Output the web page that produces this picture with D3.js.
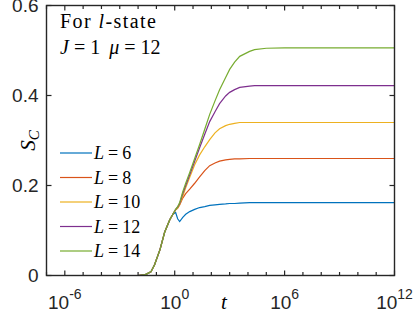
<!DOCTYPE html>
<html>
<head>
<meta charset="utf-8">
<script src="https://cdn.jsdelivr.net/npm/d3@7"></script>
<style>
  body { margin: 0; background: #fff; }
  .tick-label { font-family: "Liberation Sans", Arial, sans-serif; font-size: 19px; fill: #262626; }
  .serif { font-family: "Liberation Serif", "DejaVu Serif", "Times New Roman", serif; fill: #000; }
</style>
</head>
<body>
<div id="chart"></div>
<script>
// data: log10(t) grid and S_C for each L
var logT = [-2, -1.6, -1.3, -1.1, -0.8, -0.55, -0.27, -0.1, 0.05, 0.16, 0.27, 0.44, 0.6, 0.82,
    1.09, 1.36, 1.64, 1.91, 2.2, 2.45, 2.78, 3, 3.27, 3.55, 4.09, 4.36, 5, 6, 8, 10, 12];

var rise = [0, 0.002, 0.008, 0.024, 0.058, 0.096, 0.124, 0.136];

var sL6 = rise.concat([0.14, 0.126, 0.12, 0.129, 0.136, 0.142, 0.147, 0.151, 0.153, 0.156, 0.157,
    0.158, 0.159, 0.16, 0.16, 0.161, 0.162, 0.162, 0.162, 0.162, 0.162, 0.162, 0.162]);
var sL8 = rise.concat([0.146, 0.15, 0.157, 0.172, 0.182, 0.192, 0.205, 0.219, 0.233, 0.244, 0.25,
    0.254, 0.257, 0.258, 0.259, 0.259, 0.26, 0.26, 0.26, 0.26, 0.26, 0.26, 0.26]);
var sL10 = rise.concat([0.146, 0.15, 0.158, 0.176, 0.195, 0.218, 0.246, 0.268, 0.286, 0.302, 0.317,
    0.326, 0.333, 0.336, 0.338, 0.34, 0.34, 0.34, 0.34, 0.34, 0.34, 0.34, 0.34]);
var sL12 = rise.concat([0.147, 0.152, 0.16, 0.182, 0.2, 0.224, 0.254, 0.284, 0.314, 0.342, 0.364,
    0.382, 0.399, 0.407, 0.413, 0.418, 0.421, 0.422, 0.422, 0.422, 0.422, 0.422, 0.422]);
var sL14 = rise.concat([0.147, 0.153, 0.162, 0.186, 0.205, 0.229, 0.26, 0.291, 0.325, 0.358, 0.388,
    0.413, 0.44, 0.458, 0.474, 0.487, 0.498, 0.502, 0.505, 0.506, 0.506, 0.506, 0.506]);

var seriesNames = ["6", "8", "10", "12", "14"];
var seriesValues = [sL6, sL8, sL10, sL12, sL14];
var colors = ["#0072BD", "#D95319", "#EDB120", "#7E2F8E", "#77AC30"];

var xTickExp = [-6, 0, 6, 12];
var yTicks = [0, 0.2, 0.4, 0.6];

var svgWidth = 415;
var svgHeight = 325;
var margin = { top: 5.5, right: 20.5, bottom: 49.5, left: 46.5 };
var width = svgWidth - margin.left - margin.right;
var height = svgHeight - margin.top - margin.bottom;

var svg = d3.select("#chart")
    .append("svg")
    .attr("width", svgWidth)
    .attr("height", svgHeight);

var chartGroup = svg.append("g")
    .attr("transform", `translate(${margin.left}, ${margin.top})`);

var xScale = d3.scaleLog().domain([1e-7, 1e12]).range([0, width]);
var yScale = d3.scaleLinear().domain([0, 0.6]).range([height, 0]);

// curves
var line = d3.line()
    .x(d => xScale(Math.pow(10, d[0])))
    .y(d => yScale(d[1]));

seriesValues.forEach(function (vals, i) {
    chartGroup.append("path")
        .datum(logT.map((e, j) => [e, vals[j]]))
        .attr("fill", "none")
        .attr("stroke", colors[i])
        .attr("stroke-width", 1.2)
        .attr("d", line);
});

// box
chartGroup.append("rect")
    .attr("width", width)
    .attr("height", height)
    .attr("fill", "none")
    .attr("stroke", "#262626")
    .attr("stroke-width", 1.4);

// x ticks: every decade, labelled ones longer, inward on bottom and top
var decades = d3.range(-7, 13);
decades.forEach(function (e) {
    var x = xScale(Math.pow(10, e));
    var len = xTickExp.indexOf(e) >= 0 ? 5 : 3.5;
    chartGroup.append("line").attr("x1", x).attr("x2", x).attr("y1", height).attr("y2", height - len)
        .attr("stroke", "#262626").attr("stroke-width", 1.2);
    chartGroup.append("line").attr("x1", x).attr("x2", x).attr("y1", 0).attr("y2", len)
        .attr("stroke", "#262626").attr("stroke-width", 1.2);
});

// y ticks on left and right
yTicks.forEach(function (v) {
    var y = yScale(v);
    chartGroup.append("line").attr("x1", 0).attr("x2", 5).attr("y1", y).attr("y2", y)
        .attr("stroke", "#262626").attr("stroke-width", 1.2);
    chartGroup.append("line").attr("x1", width).attr("x2", width - 5).attr("y1", y).attr("y2", y)
        .attr("stroke", "#262626").attr("stroke-width", 1.2);
    chartGroup.append("text")
        .attr("class", "tick-label")
        .attr("x", -8)
        .attr("y", y)
        .attr("dy", "0.36em")
        .attr("text-anchor", "end")
        .text(v === 0 ? "0" : d3.format(".1f")(v));
});

// x tick labels 10^n
xTickExp.forEach(function (e) {
    var t = chartGroup.append("text")
        .attr("class", "tick-label")
        .attr("x", xScale(Math.pow(10, e)))
        .attr("y", height + 33.5)
        .attr("text-anchor", "middle");
    t.append("tspan").text("10");
    t.append("tspan").attr("dy", -10).style("font-size", "14px").text(e);
});

// axis labels
chartGroup.append("text")
    .attr("class", "serif")
    .attr("x", 177.5)
    .attr("y", height + 33.5)
    .attr("text-anchor", "middle")
    .style("font-size", "21px")
    .style("font-style", "italic")
    .text("t");

var yLabel = chartGroup.append("text")
    .attr("class", "serif")
    .attr("transform", `translate(${-12}, ${height / 2}) rotate(-90)`)
    .attr("text-anchor", "middle")
    .style("font-size", "21px")
    .style("font-style", "italic");
yLabel.append("tspan").text("S");
yLabel.append("tspan").attr("dy", 4).style("font-size", "15px").text("C");

// annotation
var note1 = chartGroup.append("text")
    .attr("class", "serif")
    .attr("x", 13.5)
    .attr("y", 22.5)
    .attr("textLength", 96)
    .attr("lengthAdjust", "spacing")
    .style("font-size", "20px");
note1.append("tspan").text("For ");
note1.append("tspan").style("font-style", "italic").text("l");
note1.append("tspan").text("-state");

var note2 = chartGroup.append("text")
    .attr("class", "serif")
    .attr("x", 13.5)
    .attr("y", 48.5)
    .style("font-size", "20px");
note2.append("tspan").style("font-style", "italic").text("J");
note2.append("tspan").attr("dx", 5).text("=");
note2.append("tspan").attr("dx", 5).text("1");
note2.append("tspan").attr("dx", 9).style("font-style", "italic").text("μ");
note2.append("tspan").attr("dx", 5).text("=");
note2.append("tspan").attr("dx", 5).text("12");

// legend
var legend = chartGroup.append("g")
    .attr("transform", "translate(13.5, 147.5)");

seriesNames.forEach(function (name, i) {
    var row = legend.append("g").attr("transform", `translate(0, ${i * 24.5})`);
    row.append("line")
        .attr("x1", 0).attr("x2", 32)
        .attr("stroke", colors[i])
        .attr("stroke-width", 1.2);
    var lt = row.append("text")
        .attr("class", "serif")
        .attr("x", 34)
        .attr("y", 6)
        .style("font-size", "18px");
    lt.append("tspan").style("font-style", "italic").text("L");
    lt.append("tspan").attr("dx", 4).text("=");
    lt.append("tspan").attr("dx", 4).text(name);
});
</script>
</body>
</html>
